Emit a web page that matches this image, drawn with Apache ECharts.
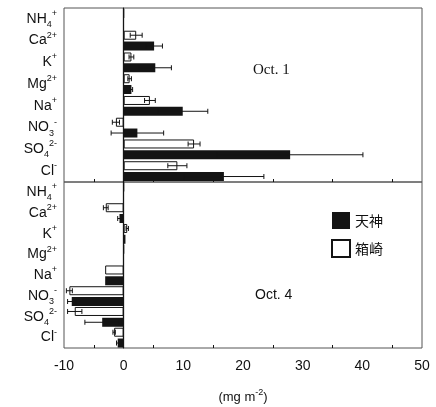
<!DOCTYPE html>
<html>
<head>
<meta charset="utf-8">
<script src="https://cdn.jsdelivr.net/npm/echarts@6/dist/echarts.min.js"></script>
<style>
  html, body { margin: 0; padding: 0; background: #fff; }
  #chart { width: 436px; height: 407px; }
</style>
</head>
<body>
<div id="chart"></div>
<script>
// 离子种类（上下两个面板共用）
const ionLabels = [
  'NH{sub|4}{sup|+}', 'Ca{sup|2+}', 'K{sup|+}', 'Mg{sup|2+}',
  'Na{sup|+}', 'NO{sub|3}{sup|-}', 'SO{sub|4}{sup|2-}', 'Cl{sup|-}'
]

// Oct. 1
const oct1Tenjin = [0, 5.1, 5.3, 1.3, 9.9, 2.3, 27.9, 16.8]
const oct1TenjinErr = [0, 1.4, 2.7, 0.2, 4.2, 4.4, 12.2, 6.7]
const oct1Hakozaki = [0, 2.1, 1.3, 1.0, 4.4, -1.3, 11.8, 9.0]
const oct1HakozakiErr = [0, 1.0, 0.4, 0.3, 0.9, 0.6, 1.0, 1.6]

// Oct. 4
const oct4Tenjin = [0, -0.7, 0.3, 0, -3.1, -8.7, -3.6, -1.0]
const oct4TenjinErr = [0, 0.3, 0, 0, 0, 0.7, 2.9, 0.2]
const oct4Hakozaki = [0, -3.0, 0.6, 0, -3.1, -9.1, -8.2, -1.6]
const oct4HakozakiErr = [0, 0.4, 0.2, 0, 0, 0.5, 1.2, 0.2]

const xMin = -10
const xMax = 50
const xStep = 10

const BAR_W = 9
const HALF = 5.4 // 两根柱子中心相对类目中心的偏移
const black = '#141414'
const sans = 'Liberation Sans'

const chart = echarts.init(document.getElementById('chart'))

function errData(vals, errs) {
  return vals.map((v, i) => [v, i, errs[i]])
}

function errSeries(axisIdx, vals, errs, offset) {
  return {
    type: 'custom',
    xAxisIndex: axisIdx,
    yAxisIndex: axisIdx,
    silent: true,
    z: 5,
    data: errData(vals, errs),
    renderItem(params, api) {
      const v = api.value(0)
      const i = api.value(1)
      const e = api.value(2)
      if (!e) return
      const y = api.coord([v, i])[1] + offset
      const x0 = api.coord([v - e, i])[0]
      const x1 = api.coord([v + e, i])[0]
      const st = { stroke: black, lineWidth: 1 }
      return {
        type: 'group',
        children: [
          { type: 'line', shape: { x1: x0, y1: y, x2: x1, y2: y }, style: st },
          { type: 'line', shape: { x1: x0, y1: y - 2.5, x2: x0, y2: y + 2.5 }, style: st },
          { type: 'line', shape: { x1: x1, y1: y - 2.5, x2: x1, y2: y + 2.5 }, style: st }
        ]
      }
    }
  }
}

function barPair(axisIdx, tenjin, hakozaki) {
  return [
    {
      name: '箱崎',
      type: 'bar',
      xAxisIndex: axisIdx,
      yAxisIndex: axisIdx,
      barWidth: BAR_W,
      barGap: '20%',
      data: hakozaki,
      itemStyle: { color: '#fff', borderColor: black, borderWidth: 1 }
    },
    {
      name: '天神',
      type: 'bar',
      xAxisIndex: axisIdx,
      yAxisIndex: axisIdx,
      barWidth: BAR_W,
      barGap: '20%',
      data: tenjin,
      itemStyle: { color: black },
      markLine: {
        silent: true,
        symbol: 'none',
        label: { show: false },
        lineStyle: { color: black, width: 1.3, type: 'solid' },
        data: [{ xAxis: 0 }]
      }
    }
  ]
}

const catAxis = idx => ({
  type: 'category',
  gridIndex: idx,
  inverse: true,
  data: ionLabels,
  axisLine: { lineStyle: { color: black } },
  axisTick: { show: false },
  axisLabel: {
    margin: 7,
    color: '#111',
    fontFamily: sans,
    fontSize: 14,
    lineHeight: 20,
    rich: {
      sub: { fontSize: 9, fontFamily: sans, color: '#111', verticalAlign: 'bottom', lineHeight: 10 },
      sup: { fontSize: 9, fontFamily: sans, color: '#111', verticalAlign: 'top', lineHeight: 10 }
    }
  }
})

const valAxis = (idx, showLabel) => ({
  type: 'value',
  gridIndex: idx,
  min: xMin,
  max: xMax,
  interval: xStep,
  axisLine: { lineStyle: { color: black } },
  axisTick: { inside: true, length: 5, lineStyle: { color: black } },
  minorTick: { show: true, splitNumber: 2, length: 3, lineStyle: { color: black } },
  splitLine: { show: false },
  axisLabel: {
    show: showLabel,
    margin: 11,
    color: '#111',
    fontFamily: sans,
    fontSize: 14
  },
  name: showLabel ? '(mg m{sup|-2})' : '',
  nameLocation: 'middle',
  nameGap: 40,
  nameTextStyle: {
    color: '#111',
    fontFamily: sans,
    fontSize: 13,
    lineHeight: 18,
    rich: {
      sup: { fontSize: 9, fontFamily: sans, color: '#111', verticalAlign: 'top', lineHeight: 10 }
    }
  }
})

const option = {
  animation: false,
  backgroundColor: '#fff',
  grid: [
    { left: 64, right: 14, top: 8, height: 174, show: true, borderColor: '#555', borderWidth: 1 },
    { left: 64, right: 14, top: 182, height: 175, show: true, borderColor: '#555', borderWidth: 1 }
  ],
  xAxis: [valAxis(0, false), valAxis(1, true)],
  yAxis: [catAxis(0), catAxis(1)],
  legend: {
    data: ['天神', '箱崎'],
    orient: 'vertical',
    left: 326,
    top: 207,
    itemWidth: 18,
    itemHeight: 17,
    itemGap: 10,
    icon: 'rect',
    textStyle: { fontFamily: 'Noto Sans CJK JP', fontSize: 14, color: '#111' }
  },
  graphic: [
    { type: 'text', left: 253, top: 63, style: { text: 'Oct. 1', font: '15px "Liberation Serif"', fill: '#111' } },
    { type: 'text', left: 255, top: 288, style: { text: 'Oct. 4', font: '14px "Liberation Sans"', fill: '#111' } }
  ],
  series: [
    ...barPair(0, oct1Tenjin, oct1Hakozaki),
    ...barPair(1, oct4Tenjin, oct4Hakozaki),
    errSeries(0, oct1Hakozaki, oct1HakozakiErr, -HALF),
    errSeries(0, oct1Tenjin, oct1TenjinErr, HALF),
    errSeries(1, oct4Hakozaki, oct4HakozakiErr, -HALF),
    errSeries(1, oct4Tenjin, oct4TenjinErr, HALF)
  ]
}

chart.setOption(option)
</script>
</body>
</html>
